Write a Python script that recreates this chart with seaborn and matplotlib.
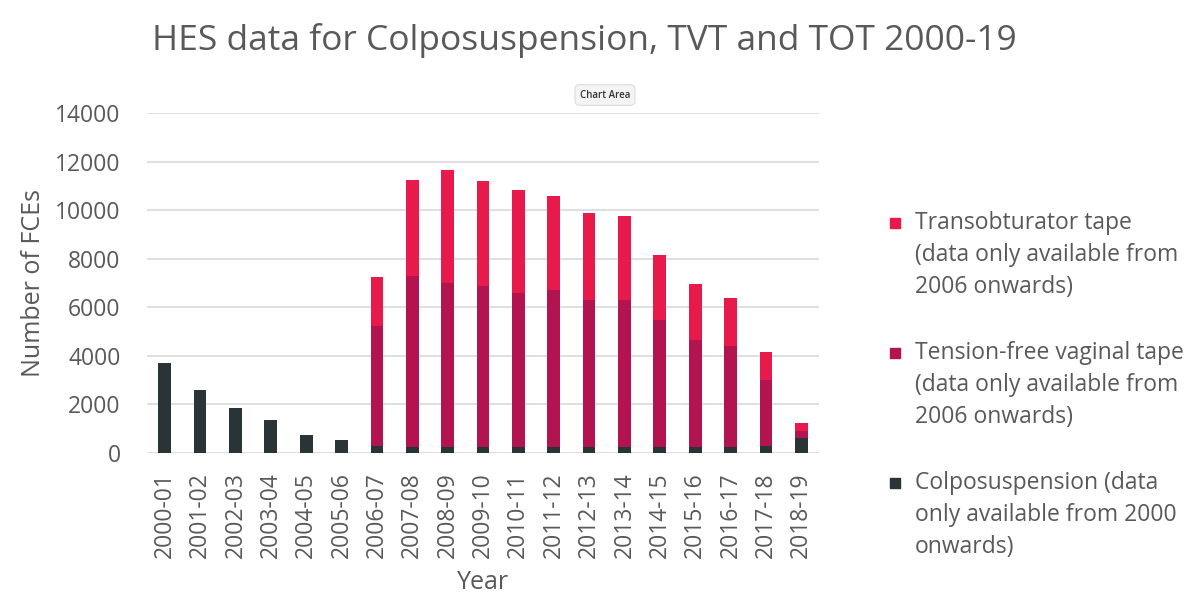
import pandas as pd
import numpy as np
import matplotlib
matplotlib.use('Agg')
import matplotlib.pyplot as plt
import seaborn as sns
from matplotlib.patches import Rectangle

# Financial years on the x axis
years = ["2000-01", "2001-02", "2002-03", "2003-04", "2004-05", "2005-06",
         "2006-07", "2007-08", "2008-09", "2009-10", "2010-11", "2011-12",
         "2012-13", "2013-14", "2014-15", "2015-16", "2016-17", "2017-18",
         "2018-19"]

# Number of FCEs per procedure
colpo = [3700, 2600, 1850, 1370, 750, 550,
         280, 260, 260, 250, 240, 240,
         240, 240, 240, 240, 250, 300,
         620]
tvt = [0, 0, 0, 0, 0, 0,
       4930, 7010, 6740, 6610, 6350, 6480,
       6070, 6060, 5250, 4420, 4140, 2720,
       300]
tot = [0, 0, 0, 0, 0, 0,
       2020, 3980, 4640, 4320, 4250, 3870,
       3570, 3470, 2680, 2310, 1990, 1130,
       320]

legend_labels = [
    "Transobturator tape\n(data only available from\n2006 onwards)",
    "Tension-free vaginal tape\n(data only available from\n2006 onwards)",
    "Colposuspension (data\nonly available from 2000\nonwards)",
]

TOT_COLOR = "#E8194B"
TVT_COLOR = "#B3134F"
COLPO_COLOR = "#2A3437"
TEXT_COLOR = "#595959"

df = pd.DataFrame({"year": years, "colpo": colpo, "tvt": tvt, "tot": tot})
df["colpo_tvt"] = df["colpo"] + df["tvt"]
df["total"] = df["colpo_tvt"] + df["tot"]

sns.set_theme(style="white")
plt.rcParams['font.family'] = ['Open Sans', 'DejaVu Sans']

W, H = 1197, 594
fig = plt.figure(figsize=(W / 100, H / 100), dpi=100)
ax = fig.add_axes([147 / W, 1 - 453 / H, 672 / W, 340 / H])

# stacked bars: draw cumulative totals back to front
bar_kw = dict(width=0.36, saturation=1, linewidth=0, ax=ax, zorder=3)
sns.barplot(data=df, x="year", y="total", color=TOT_COLOR, **bar_kw)
sns.barplot(data=df, x="year", y="colpo_tvt", color=TVT_COLOR, **bar_kw)
sns.barplot(data=df, x="year", y="colpo", color=COLPO_COLOR, **bar_kw)

ax.set_ylim(0, 14000)
ax.set_xlim(-0.5, len(years) - 0.5)
ax.set_yticks(np.arange(0, 14001, 2000))
ax.yaxis.grid(True, color="#D9D9D9", linewidth=1.2, zorder=0)
ax.set_axisbelow(True)
for s in ax.spines.values():
    s.set_visible(False)
ax.tick_params(axis="both", length=0, labelsize=16.5, colors=TEXT_COLOR)
ax.tick_params(axis="y", pad=19)
ax.tick_params(axis="x", pad=14)
plt.setp(ax.get_xticklabels(), rotation=90)

ax.set_xlabel("Year", fontsize=18, color=TEXT_COLOR)
ax.set_ylabel("Number of FCEs", fontsize=18, color=TEXT_COLOR)
ax.xaxis.set_label_coords(0.5, -0.345)
ax.yaxis.set_label_coords(-0.15, 0.5)

fig.text(584 / W, 1 - 40 / H, "HES data for Colposuspension, TVT and TOT 2000-19",
         ha="center", va="center", fontsize=25.5, color=TEXT_COLOR)

# Excel "Chart Area" tooltip captured in the screenshot
fig.text(605 / W, 1 - 95 / H, "Chart Area", ha="center", va="center", fontsize=7,
         color="#333333", fontweight="semibold",
         bbox=dict(boxstyle="round,pad=0.5", fc="#F4F4F4", ec="#DDDDDD", lw=0.8))

# legend drawn by hand so the swatch sits on the first line of each entry
for i, (label, color) in enumerate(zip(legend_labels, [TOT_COLOR, TVT_COLOR, COLPO_COLOR])):
    y0 = 223 + i * 130
    fig.patches.append(Rectangle((890 / W, 1 - (y0 + 5) / H), 10 / W, 10 / H,
                                 transform=fig.transFigure, color=color, figure=fig))
    for j, line in enumerate(label.split("\n")):
        fig.text(915 / W, 1 - (y0 + j * 32) / H, line, ha="left", va="center",
                 fontsize=16.5, color=TEXT_COLOR)

fig.savefig("out.png", dpi=100)
